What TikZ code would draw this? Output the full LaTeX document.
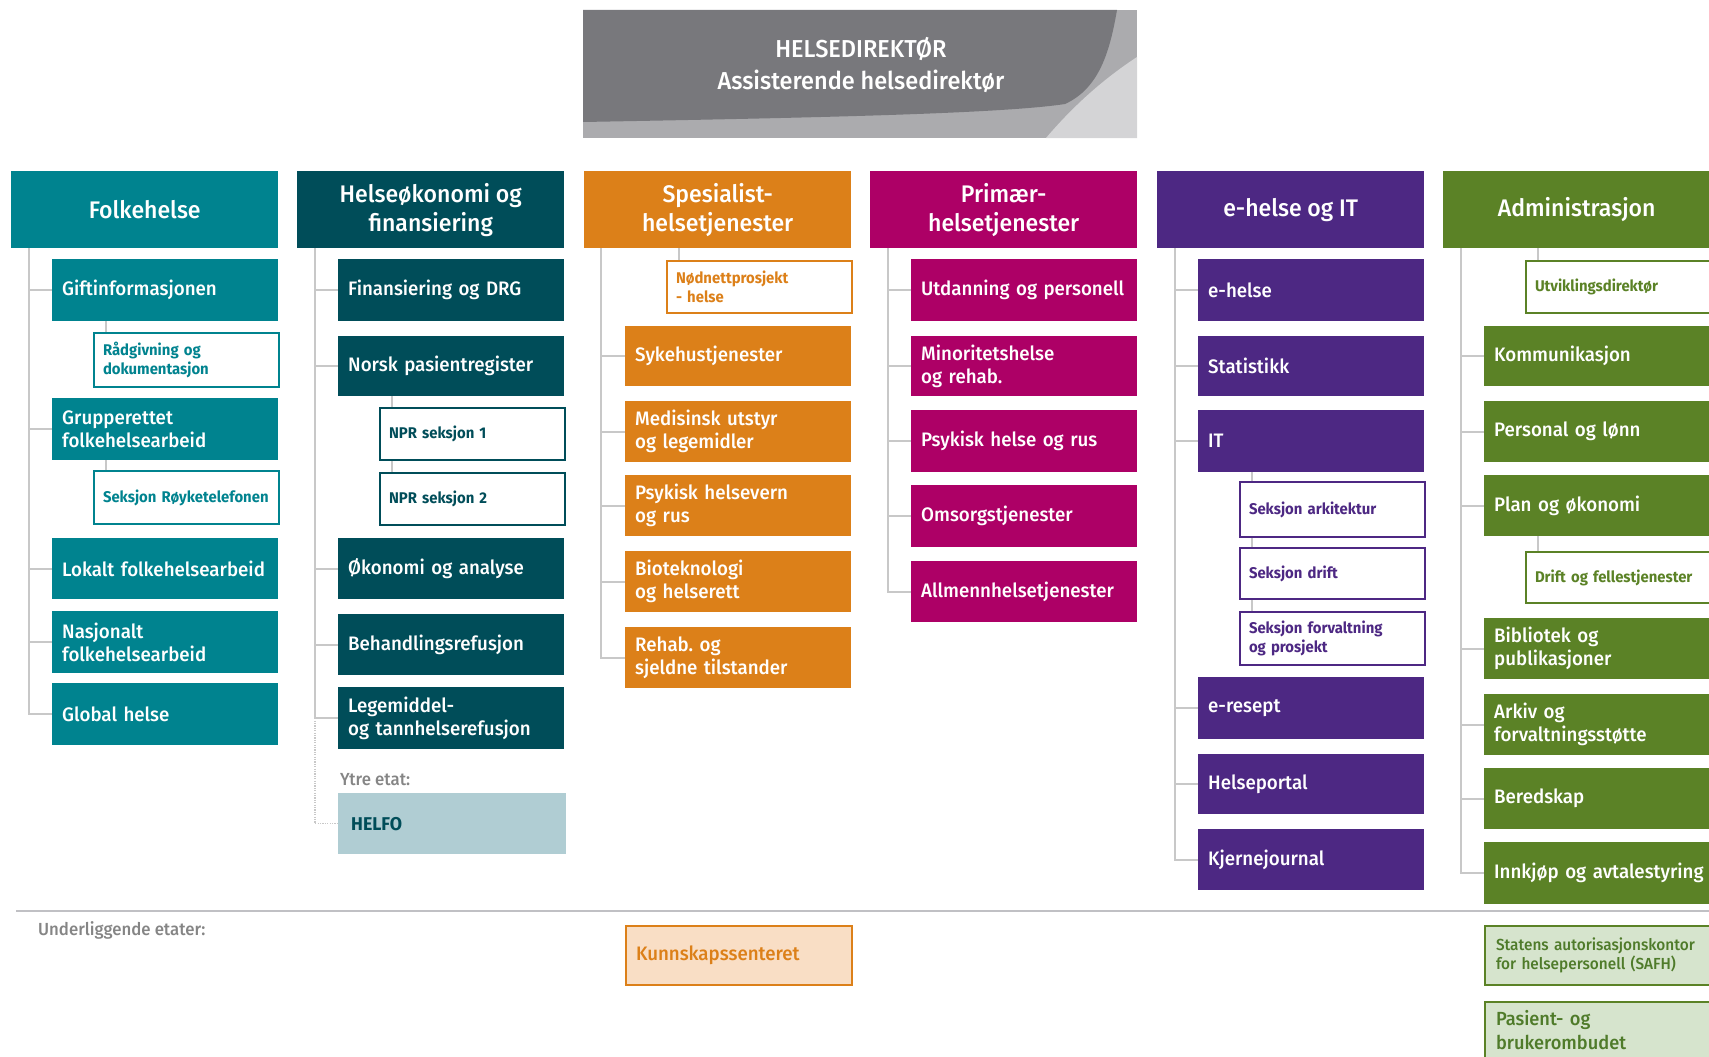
\documentclass[tikz,border=0pt]{standalone}
\usepackage{fontspec}
\setmainfont{Fira Sans}[FakeStretch=0.96, UprightFont={* Medium}, BoldFont={* Bold}]
\usetikzlibrary{calc}
\hyphenpenalty=10000
\exhyphenpenalty=10000
\definecolor{cF}{HTML}{00838F}
\definecolor{cH}{HTML}{004D59}
\definecolor{cS}{HTML}{DC8019}
\definecolor{cP}{HTML}{AD0066}
\definecolor{cE}{HTML}{4D2883}
\definecolor{cA}{HTML}{5B8226}
\definecolor{cAt}{HTML}{4F7B2A}
\definecolor{helfofill}{HTML}{B0CDD3}
\definecolor{kunnfill}{HTML}{F9DEC5}
\definecolor{agfill}{HTML}{D6E4CD}
\definecolor{gdark}{HTML}{78787C}
\definecolor{gmid}{HTML}{ABABAE}
\definecolor{glight}{HTML}{D4D4D6}
\definecolor{connc}{HTML}{C8C8C8}
\definecolor{sepc}{HTML}{C0C0C4}
\definecolor{labc}{HTML}{858585}
\newcommand{\myhfont}{\fontsize{24}{29}\selectfont}
\newcommand{\mysfont}{\fontsize{19.5}{23}\selectfont}
\newcommand{\mywfont}{\bfseries\fontsize{15.5}{19}\selectfont}
\newcommand{\mytfont}{\fontsize{24.5}{32}\selectfont}
\begin{document}
\begin{tikzpicture}[x=1pt,y=-1pt,
  hdr/.style={anchor=north west, minimum width=267pt, minimum height=77pt, inner sep=0pt,
    fill=#1, text=white, font=\myhfont, align=center},
  sub/.style={anchor=north west, text width=206pt, inner xsep=10pt, inner ysep=0pt,
    minimum height=61pt, fill=#1, text=white, font=\mysfont, align=left},
  wsub/.style={anchor=north west, text width=167pt, inner xsep=9pt, inner ysep=0pt,
    minimum height=52pt, draw=#1, line width=2pt, fill=white, text=#1, font=\mywfont, align=left},
  conn/.style={draw=connc, line width=2pt},
  dotconn/.style={draw=connc, line width=1.2pt, dash pattern=on 1.2pt off 1.2pt},
  lab/.style={anchor=west, inner sep=0pt, text=labc, font=\fontsize{17.5}{20}\selectfont},
  wide/.style={text width=240pt}
]
\useasboundingbox (0,0) rectangle (1709,1057);

% ---------- top box ----------
\fill[gmid] (583,10) rectangle (1137,138);
\fill[glight] (1046,138) .. controls (1075,104) and (1105,78) .. (1137,57) -- (1137,138) -- cycle;
\fill[gdark] (583,10) -- (1117,10) .. controls (1110,50) and (1100,88) .. (1065,104)
  .. controls (1000,114) and (800,118) .. (583,122) -- cycle;
\node[text=white, font=\mytfont, align=center] (top) at (861,65) {HELSEDIREKTØR\\Assisterende~helsedirektør};

% ---------- Folkehelse ----------
\node[hdr=cF] (hF) at (11,171) {Folkehelse};
\node[sub=cF, minimum height=62pt] (gift) at (52,259) {Giftinformasjonen};
\node[wsub=cF, minimum height=54pt] (raad) at (93,332) {Rådgivning~og\\dokumentasjon};
\node[sub=cF, minimum height=62pt] (grupp) at (52,398) {Grupperettet\\folkehelsearbeid};
\node[wsub=cF, minimum height=53pt] (royk) at (93,470) {Seksjon~Røyketelefonen};
\node[sub=cF] (lokalt) at (52,538) {Lokalt~folkehelsearbeid};
\node[sub=cF, minimum height=62pt] (nasj) at (52,611) {Nasjonalt\\folkehelsearbeid};
\node[sub=cF, minimum height=62pt] (glob) at (52,683) {Global~helse};

% ---------- Helseøkonomi ----------
\node[hdr=cH] (hH) at (297,171) {Helseøkonomi~og\\finansiering};
\node[sub=cH, minimum height=62pt] (findrg) at (338,259) {Finansiering~og~DRG};
\node[sub=cH, minimum height=60pt] (npr) at (338,336) {Norsk~pasientregister};
\node[wsub=cH] (npr1) at (379,407) {NPR~seksjon~1};
\node[wsub=cH] (npr2) at (379,472) {NPR~seksjon~2};
\node[sub=cH] (okon) at (338,538) {Økonomi~og~analyse};
\node[sub=cH] (behand) at (338,614) {Behandlingsrefusjon};
\node[sub=cH, minimum height=62pt] (legem) at (338,687) {Legemiddel-\\og~tannhelserefusjon};
\node[lab] (ytre) at (340,780) {Ytre etat:};
\node[sub=helfofill, text=cH, text width=202pt, inner xsep=13pt,
  font=\bfseries\fontsize{18.5}{22}\selectfont] (helfo) at (338,793) {HELFO};

% ---------- Spesialist ----------
\node[hdr=cS] (hS) at (584,171) {Spesialist-\\helsetjenester};
\node[wsub=cS] (nod) at (666,260) {Nødnettprosjekt\\- helse};
\node[sub=cS, minimum height=60pt] (syk) at (625,326) {Sykehustjenester};
\node[sub=cS] (med) at (625,401) {Medisinsk~utstyr\\og~legemidler};
\node[sub=cS] (psykS) at (625,475) {Psykisk~helsevern\\og~rus};
\node[sub=cS] (bio) at (625,551) {Bioteknologi\\og~helserett};
\node[sub=cS] (rehab) at (625,627) {Rehab.~og\\sjeldne~tilstander};

% ---------- Primær ----------
\node[hdr=cP] (hP) at (870,171) {Primær-\\helsetjenester};
\node[sub=cP, minimum height=62pt] (utd) at (911,259) {Utdanning~og~personell};
\node[sub=cP, minimum height=60pt] (minor) at (911,336) {Minoritetshelse\\og~rehab.};
\node[sub=cP, minimum height=62pt] (psykP) at (911,410) {Psykisk~helse~og~rus};
\node[sub=cP, minimum height=62pt] (oms) at (911,485) {Omsorgstjenester};
\node[sub=cP] (allm) at (911,561) {Allmennhelsetjenester};

% ---------- e-helse og IT ----------
\node[hdr=cE] (hE) at (1157,171) {e-helse~og~IT};
\node[sub=cE, minimum height=62pt] (eh) at (1198,259) {e-helse};
\node[sub=cE, minimum height=60pt] (stat) at (1198,336) {Statistikk};
\node[sub=cE, minimum height=62pt] (it) at (1198,410) {IT};
\node[wsub=cE, minimum height=55pt] (ark) at (1239,481) {Seksjon~arkitektur};
\node[wsub=cE, minimum height=51pt] (drift) at (1239,547) {Seksjon~drift};
\node[wsub=cE, minimum height=53pt] (forv) at (1239,611) {Seksjon~forvaltning\\og~prosjekt};
\node[sub=cE, minimum height=62pt] (eres) at (1198,677) {e-resept};
\node[sub=cE, minimum height=60pt] (portal) at (1198,754) {Helseportal};
\node[sub=cE] (kjerne) at (1198,829) {Kjernejournal};

% ---------- Administrasjon ----------
\node[hdr=cA] (hA) at (1443,171) {Administrasjon};
\node[wsub=cA, wide] (utv) at (1525,260) {Utviklingsdirektør};
\node[sub=cA, wide, minimum height=60pt] (komm) at (1484,326) {Kommunikasjon};
\node[sub=cA, wide] (pers) at (1484,401) {Personal~og~lønn};
\node[sub=cA, wide] (plan) at (1484,475) {Plan~og~økonomi};
\node[wsub=cA, wide, minimum height=51pt] (driftf) at (1525,551) {Drift~og~fellestjenester};
\node[sub=cA, wide] (bibl) at (1484,618) {Bibliotek~og\\publikasjoner};
\node[sub=cA, wide] (arkiv) at (1484,694) {Arkiv~og\\forvaltningsstøtte};
\node[sub=cA, wide] (bered) at (1484,768) {Beredskap};
\node[sub=cA, wide, minimum height=62pt] (innkj) at (1484,842) {Innkjøp~og~avtalestyring};

% ---------- bottom ----------
\draw[draw=sepc, line width=2pt] (16,911) -- (1712,911);
\node[lab] (und) at (38,930) {Underliggende~etater:};
\node[sub=kunnfill, draw=cS, line width=2pt, text=cS, minimum height=59pt] (kunn) at (625,925) {Kunnskapssenteret};
\node[sub=agfill, wide, draw=cA, line width=2pt, text=cAt, inner xsep=11pt, minimum height=59pt,
  font=\fontsize{16}{19}\selectfont] (statens) at (1484,925) {Statens~autorisasjonskontor\\for~helsepersonell~(SAFH)};
\node[sub=agfill, wide, draw=cA, line width=2pt, text=cAt, inner xsep=11pt, minimum height=56pt,
  font=\fontsize{19}{24}\selectfont] (pasient) at (1484,1001) {Pasient-~og\\brukerombudet};

% ---------- connectors ----------
\coordinate (vF) at ([xshift=18pt]hF.south west);
\draw[conn] (vF) |- (glob.west);
\foreach \n in {gift,grupp,lokalt,nasj} \draw[conn] (vF |- \n.west) -- (\n.west);

\coordinate (vH) at ([xshift=18pt]hH.south west);
\draw[conn] (vH) |- (legem.west);
\foreach \n in {findrg,npr,okon,behand} \draw[conn] (vH |- \n.west) -- (\n.west);
\draw[dotconn] (vH |- legem.west) |- (helfo.west);

\coordinate (vS) at ([xshift=17pt]hS.south west);
\draw[conn] (vS) |- (rehab.west);
\foreach \n in {syk,med,psykS,bio} \draw[conn] (vS |- \n.west) -- (\n.west);

\coordinate (vP) at ([xshift=18pt]hP.south west);
\draw[conn] (vP) |- (allm.west);
\foreach \n in {utd,minor,psykP,oms} \draw[conn] (vP |- \n.west) -- (\n.west);

\coordinate (vE) at ([xshift=18pt]hE.south west);
\draw[conn] (vE) |- (kjerne.west);
\foreach \n in {eh,stat,it,eres,portal} \draw[conn] (vE |- \n.west) -- (\n.west);

\coordinate (vA) at ([xshift=18pt]hA.south west);
\draw[conn] (vA) |- (innkj.west);
\foreach \n in {komm,pers,plan,bibl,arkiv,bered} \draw[conn] (vA |- \n.west) -- (\n.west);

% links to white section boxes
\foreach \c/\p in {raad/gift, royk/grupp, npr1/npr, npr2/npr1, nod/hS, ark/it, drift/ark, forv/drift, utv/hA, driftf/plan}{
  \coordinate (\c-c) at ([xshift=13pt]\c.north west);
  \draw[conn] (\c-c) -- (\c-c |- \p.south);
}
\end{tikzpicture}
\end{document}
